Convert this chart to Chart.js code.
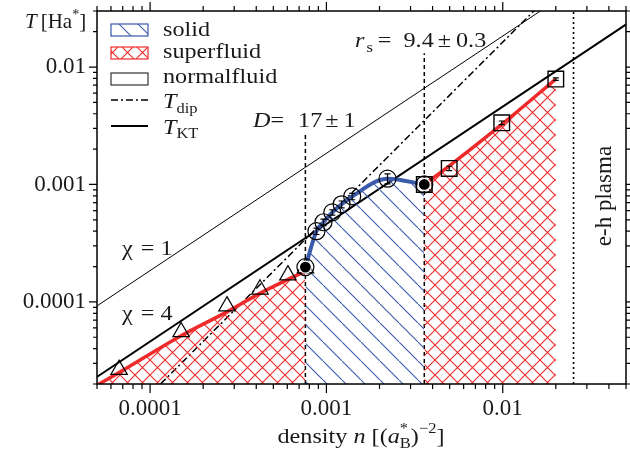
<!DOCTYPE html>
<html>
<head>
<meta charset="utf-8">
<script src="https://cdn.jsdelivr.net/npm/chart.js@4"></script>
<style>
body { margin: 0; background: #fff; }
</style>
</head>
<body>
<canvas id="phase-chart" width="630" height="451"></canvas>
<script>
// axis ticks
const xTickVals = [1e-4, 1e-3, 1e-2];
const xTickLabels = ['0.0001', '0.001', '0.01'];
const yTickVals = [1e-4, 1e-3, 1e-2];
const yTickLabels = ['0.0001', '0.001', '0.01'];

// superfluid, low density: triangles and red boundary
const triN = [6.67e-5, 1.5e-4, 2.73e-4, 4.2e-4, 6.05e-4, 7.6e-4];
const triT = [2.65e-5, 5.55e-5, 9.2e-5, 1.28e-4, 1.69e-4, 1.94e-4];
const redLoN = [5e-5, 6.67e-5, 1.5e-4, 2.73e-4, 4.14e-4, 5.98e-4, 7.6e-4];
const redLoT = [1.95e-5, 2.5e-5, 5.15e-5, 8.23e-5, 1.17e-4, 1.54e-4, 1.82e-4];

// solid phase: circles and blue boundary
const circN = [7.6e-4, 8.78e-4, 9.62e-4, 1.08e-3, 1.22e-3, 1.4e-3, 2.22e-3, 3.59e-3];
const circT = [1.98e-4, 4.0e-4, 4.77e-4, 5.79e-4, 6.78e-4, 7.91e-4, 1.12e-3, 1.0e-3];
const circErr = [0, 2.5e-5, 3e-5, 3e-5, 4.5e-5, 5e-5, 1.1e-4, 0];

// superfluid, high density: squares and red boundary
const sqN = [3.59e-3, 4.97e-3, 9.87e-3, 0.02];
const sqT = [1.0e-3, 1.37e-3, 3.35e-3, 7.9e-3];
const sqErr = [0, 6e-5, 1.2e-4, 2e-4];
const redHiN = [3.59e-3, 5.0e-3, 1.0e-2, 0.02];
const redHiT = [1.0e-3, 1.45e-3, 3.3e-3, 7.9e-3];

// transition points
const dotN = [7.6e-4, 3.59e-3];
const dotT = [1.98e-4, 1.0e-3];

// reference lines
const chi1N = [4e-5, 0.03];
const chi1T = [7.4e-5, 0.055];
const ktN = [4e-5, 0.06];
const ktT = [1.84e-5, 0.0276];
const dipN = [1e-4, 0.02];
const dipT = [1.63e-5, 0.0461];
const dLineN = [7.6e-4, 7.6e-4];
const dLineT = [2e-5, 2.76e-3];
const rsLineN = [3.59e-3, 3.59e-3];
const rsLineT = [2e-5, 1.31e-2];
const ehLineN = [0.0252, 0.0252];
const ehLineT = [2e-5, 0.03];

const RED = '#ee2a2a';
const BLUE = '#3a5aaa';
const SERIF = '"Liberation Serif", "Times New Roman", serif';
const F_MAIN = '22px ' + SERIF;
const F_ITAL = 'italic 22px ' + SERIF;
const F_SMALL = '15px ' + SERIF;
const SX = 1.1;  // the source figure is slightly stretched horizontally

function pts(xs, ys) {
    return xs.map((x, i) => ({x: x, y: ys[i]}));
}

function makePattern(size, color, cross) {
    const c = document.createElement('canvas');
    c.width = size;
    c.height = size;
    const g = c.getContext('2d');
    g.strokeStyle = color;
    g.lineWidth = 1.1;
    g.beginPath();
    g.moveTo(-1, -1);
    g.lineTo(size + 1, size + 1);
    if (cross) {
        g.moveTo(size + 1, -1);
        g.lineTo(-1, size + 1);
    }
    g.stroke();
    return g.createPattern(c, 'repeat');
}

const redHatch = makePattern(15, RED, true);
const blueHatch = makePattern(19, BLUE, false);

function lineSet(xs, ys, opts) {
    return Object.assign({
        data: pts(xs, ys),
        borderColor: '#000',
        borderWidth: 1,
        pointRadius: 0,
        fill: false,
        tension: 0
    }, opts);
}

function markerSet(xs, ys, opts) {
    return Object.assign({
        data: pts(xs, ys),
        showLine: false,
        pointBorderColor: '#000',
        pointBackgroundColor: 'rgba(0,0,0,0)',
        pointBorderWidth: 1.2
    }, opts);
}

const datasets = [
    markerSet(dotN, dotT, {order: 0, pointRadius: 6, pointBackgroundColor: '#000', pointBorderColor: '#fff', pointBorderWidth: 1.2}),
    markerSet(sqN, sqT, {order: 1, pointStyle: 'rect', pointRadius: 11, pointBorderWidth: 1.4}),
    markerSet(circN, circT, {order: 2, pointStyle: 'circle', pointRadius: 8.5}),
    markerSet(triN, triT, {order: 3, pointStyle: 'triangle', pointRadius: 9.5}),
    lineSet(redHiN, redHiT, {order: 4, borderColor: RED, borderWidth: 3.5, fill: 'start', backgroundColor: redHatch, cubicInterpolationMode: 'monotone'}),
    lineSet(circN, circT, {order: 5, borderColor: BLUE, borderWidth: 4, fill: 'start', backgroundColor: blueHatch, cubicInterpolationMode: 'monotone'}),
    lineSet(redLoN, redLoT, {order: 6, borderColor: RED, borderWidth: 3.5, fill: 'start', backgroundColor: redHatch, cubicInterpolationMode: 'monotone'}),
    lineSet(dLineN, dLineT, {order: 7, borderWidth: 1.5, borderDash: [4, 3]}),
    lineSet(rsLineN, rsLineT, {order: 7, borderWidth: 1.5, borderDash: [4, 3]}),
    lineSet(ehLineN, ehLineT, {order: 7, borderWidth: 1.6, borderDash: [2, 3]}),
    lineSet(dipN, dipT, {order: 8, borderWidth: 1.5, borderDash: [7, 3, 2, 3]}),
    lineSet(ktN, ktT, {order: 9, borderWidth: 2}),
    lineSet(chi1N, chi1T, {order: 10, borderWidth: 1})
];

// draw a run of text pieces (sub/superscripts, gaps) with a small horizontal stretch
function drawParts(ctx, x, y, parts, align, sx) {
    const k = sx || SX;
    let total = 0;
    parts.forEach(p => {
        if (p.gap) { total += p.gap; return; }
        ctx.font = p.f;
        p.w = ctx.measureText(p.t).width * k;
        if (!p.stay) total += p.w;
    });
    let cx = align === 'center' ? x - total / 2 : x;
    parts.forEach(p => {
        if (p.gap) { cx += p.gap; return; }
        ctx.save();
        ctx.translate(cx, y + (p.dy || 0));
        ctx.scale(k, 1);
        ctx.font = p.f;
        ctx.fillText(p.t, 0, 0);
        ctx.restore();
        if (!p.stay) cx += p.w;
    });
}

// frame and outward tick marks on all four sides
const framePlugin = {
    id: 'frame',
    afterDatasetsDraw(chart) {
        const {ctx, chartArea: a, scales} = chart;
        ctx.save();
        ctx.strokeStyle = '#000';
        ctx.lineWidth = 1.5;
        ctx.strokeRect(a.left, a.top, a.right - a.left, a.bottom - a.top);
        ctx.lineWidth = 1.2;
        ctx.beginPath();
        for (let e = -5; e <= -1; e++) {
            for (let d = 1; d <= 9; d++) {
                const v = d * Math.pow(10, e);
                if (v >= scales.x.min && v <= scales.x.max) {
                    const px = scales.x.getPixelForValue(v);
                    const len = d === 1 ? 9 : 5;
                    ctx.moveTo(px, a.bottom); ctx.lineTo(px, a.bottom + len);
                    ctx.moveTo(px, a.top); ctx.lineTo(px, a.top - len);
                }
                if (v >= scales.y.min && v <= scales.y.max) {
                    const py = scales.y.getPixelForValue(v);
                    const len = d === 1 ? 8 : 4;
                    ctx.moveTo(a.left, py); ctx.lineTo(a.left - len, py);
                    ctx.moveTo(a.right, py); ctx.lineTo(a.right + len, py);
                }
            }
        }
        ctx.stroke();
        ctx.restore();
    }
};

// small error bars inside the circle and square markers
const errorPlugin = {
    id: 'errbars',
    afterDatasetsDraw(chart) {
        const {ctx, scales} = chart;
        ctx.save();
        ctx.strokeStyle = '#000';
        ctx.lineWidth = 1.2;
        ctx.beginPath();
        [[circN, circT, circErr], [sqN, sqT, sqErr]].forEach(([ns, ts, es]) => {
            ns.forEach((n, i) => {
                if (!es[i]) return;
                const px = scales.x.getPixelForValue(n);
                const y1 = scales.y.getPixelForValue(ts[i] - es[i]);
                const y2 = scales.y.getPixelForValue(ts[i] + es[i]);
                ctx.moveTo(px, y1); ctx.lineTo(px, y2);
                ctx.moveTo(px - 3, y1); ctx.lineTo(px + 3, y1);
                ctx.moveTo(px - 3, y2); ctx.lineTo(px + 3, y2);
            });
        });
        ctx.stroke();
        ctx.restore();
    }
};

// legend, axis titles and annotations
const textPlugin = {
    id: 'texts',
    afterDraw(chart) {
        const ctx = chart.ctx;
        ctx.save();
        ctx.textBaseline = 'alphabetic';
        ctx.textAlign = 'left';

        // legend
        const bx = 111, bw = 37, bh = 12;
        ctx.fillStyle = '#fff';
        ctx.fillRect(bx, 24, bw, bh);
        ctx.fillStyle = blueHatch;
        ctx.fillRect(bx, 24, bw, bh);
        ctx.fillStyle = '#fff';
        ctx.fillRect(bx, 47, bw, bh);
        ctx.fillStyle = redHatch;
        ctx.fillRect(bx, 47, bw, bh);
        ctx.lineWidth = 1.2;
        ctx.strokeStyle = BLUE;
        ctx.strokeRect(bx, 24, bw, bh);
        ctx.strokeStyle = RED;
        ctx.strokeRect(bx, 47, bw, bh);
        ctx.strokeStyle = '#333';
        ctx.strokeRect(bx, 73, bw, bh);
        ctx.strokeStyle = '#000';
        ctx.lineWidth = 1.5;
        ctx.setLineDash([7, 3, 2, 3]);
        ctx.beginPath(); ctx.moveTo(bx, 100); ctx.lineTo(bx + bw, 100); ctx.stroke();
        ctx.setLineDash([]);
        ctx.lineWidth = 2;
        ctx.beginPath(); ctx.moveTo(bx, 126); ctx.lineTo(bx + bw, 126); ctx.stroke();

        ctx.fillStyle = '#1a1a1a';
        drawParts(ctx, 163, 36, [{t: 'solid', f: F_MAIN}]);
        drawParts(ctx, 163, 58, [{t: 'superfluid', f: F_MAIN}]);
        drawParts(ctx, 163, 83, [{t: 'normalfluid', f: F_MAIN}]);
        drawParts(ctx, 163, 108, [{t: 'T', f: F_ITAL}, {t: 'dip', f: F_SMALL, dy: 5}]);
        drawParts(ctx, 163, 134, [{t: 'T', f: F_ITAL}, {t: 'KT', f: F_SMALL, dy: 4}]);

        // axis titles
        drawParts(ctx, 25, 28, [
            {t: 'T', f: 'italic 21px ' + SERIF}, {gap: 4}, {t: '[Ha', f: '21px ' + SERIF},
            {t: '*', f: '14px ' + SERIF, dy: -9}, {t: ']', f: '21px ' + SERIF}
        ], 'left', 1);
        drawParts(ctx, 361, 443, [
            {t: 'density ', f: F_MAIN}, {t: 'n', f: F_ITAL}, {t: ' [(', f: F_MAIN}, {t: 'a', f: F_ITAL},
            {t: '*', f: F_SMALL, dy: -10, stay: true}, {t: 'B', f: F_SMALL, dy: 5}, {t: ')', f: F_MAIN},
            {t: '\u22122', f: F_SMALL, dy: -10}, {t: ']', f: F_MAIN}
        ], 'center');

        // annotations
        drawParts(ctx, 253, 127, [{t: 'D', f: F_ITAL}, {t: '=', f: F_MAIN}, {gap: 14}, {t: '17', f: F_MAIN}, {gap: 3}, {t: '\u00b1', f: F_MAIN}, {gap: 5}, {t: '1', f: F_MAIN}]);
        drawParts(ctx, 355, 47, [{t: 'r', f: F_ITAL}, {gap: 2}, {t: 's', f: F_SMALL, dy: 5}, {gap: 5}, {t: '=', f: F_MAIN}, {gap: 12}, {t: '9.4', f: F_MAIN}, {gap: 4}, {t: '\u00b1', f: F_MAIN}, {gap: 5}, {t: '0.3', f: F_MAIN}]);
        drawParts(ctx, 122, 255, [{t: '\u03c7', f: F_MAIN}, {gap: 8}, {t: '=', f: F_MAIN}, {gap: 6}, {t: '1', f: F_MAIN}]);
        drawParts(ctx, 122, 320, [{t: '\u03c7', f: F_MAIN}, {gap: 8}, {t: '=', f: F_MAIN}, {gap: 6}, {t: '4', f: F_MAIN}]);

        ctx.save();
        ctx.translate(611, 196);
        ctx.rotate(-Math.PI / 2);
        ctx.textAlign = 'center';
        ctx.font = '23px ' + SERIF;
        ctx.fillText('e-h plasma', 0, 0);
        ctx.restore();

        ctx.restore();
    }
};

function tickLabel(vals, labels) {
    return value => {
        const i = vals.findIndex(t => Math.abs(t - value) / t < 1e-6);
        return i >= 0 ? labels[i] : '';
    };
}

function noPad(s) {
    s.paddingTop = 0;
    s.paddingBottom = 0;
    s.paddingLeft = 0;
    s.paddingRight = 0;
}

const ctx = document.getElementById('phase-chart').getContext('2d');
new Chart(ctx, {
    type: 'line',
    data: {datasets: datasets},
    options: {
        responsive: false,
        animation: false,
        events: [],
        layout: {autoPadding: false, padding: {top: 11, right: 4, left: 0, bottom: 0}},
        plugins: {legend: {display: false}, tooltip: {enabled: false}},
        scales: {
            x: {
                type: 'logarithmic',
                min: 5e-5,
                max: 0.05,
                bounds: 'data',
                grid: {display: false, drawTicks: false},
                border: {display: false},
                afterBuildTicks: s => { s.ticks = xTickVals.map(v => ({value: v})); },
                afterFit: s => { s.height = 67; noPad(s); },
                ticks: {
                    autoSkip: false,
                    maxRotation: 0,
                    padding: 11,
                    color: '#1a1a1a',
                    font: {family: SERIF, size: 23},
                    callback: tickLabel(xTickVals, xTickLabels)
                }
            },
            y: {
                type: 'logarithmic',
                min: 2e-5,
                max: 0.03,
                bounds: 'data',
                grid: {display: false, drawTicks: false},
                border: {display: false},
                afterBuildTicks: s => { s.ticks = yTickVals.map(v => ({value: v})); },
                afterFit: s => { s.width = 97; noPad(s); },
                ticks: {
                    autoSkip: false,
                    padding: 11,
                    color: '#1a1a1a',
                    font: {family: SERIF, size: 23},
                    callback: tickLabel(yTickVals, yTickLabels)
                }
            }
        }
    },
    plugins: [framePlugin, errorPlugin, textPlugin]
});
</script>
</body>
</html>
